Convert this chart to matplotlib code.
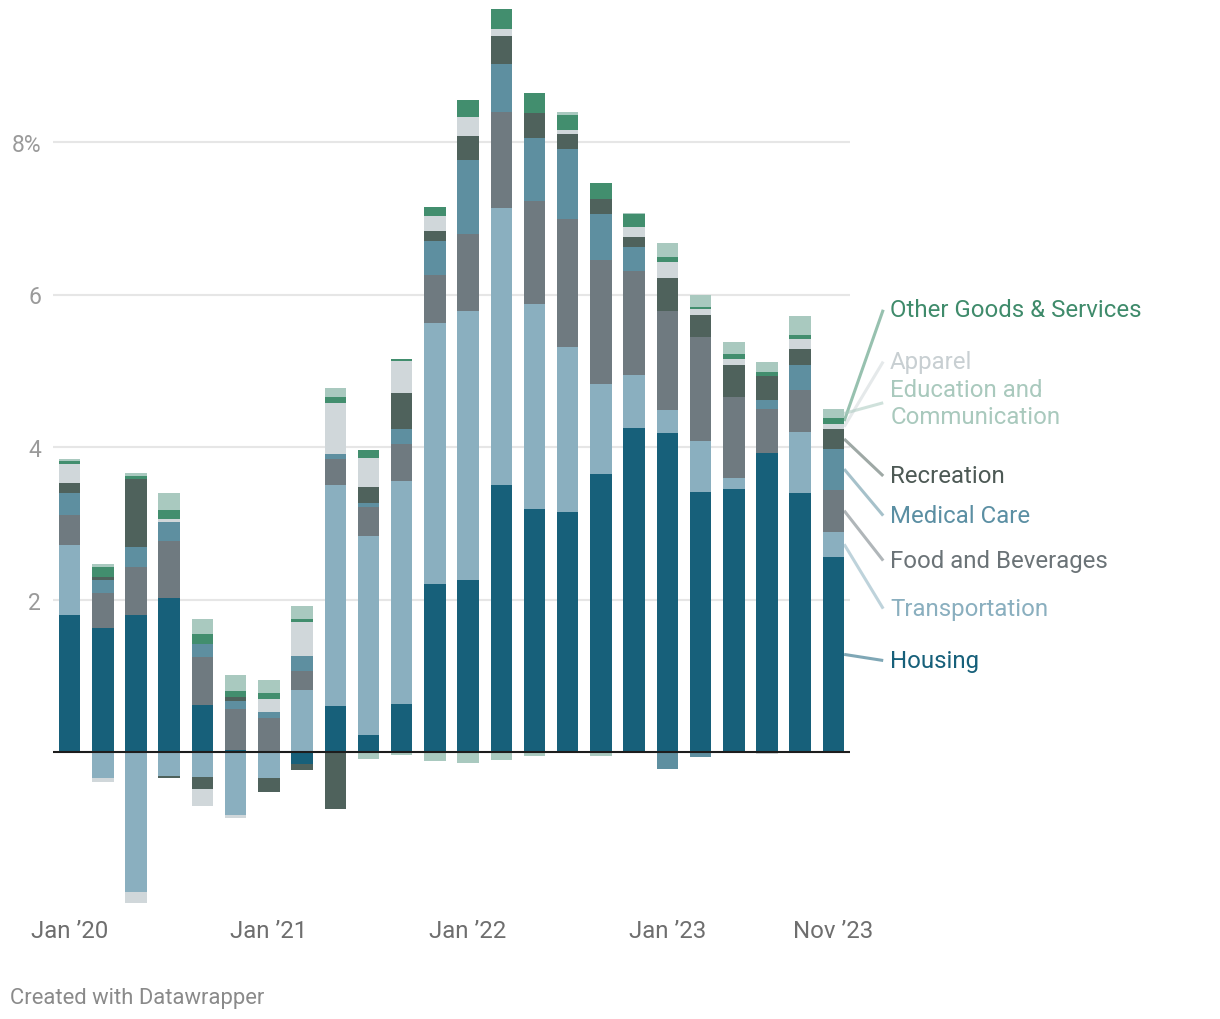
import numpy as np
import matplotlib
matplotlib.use("Agg")
import matplotlib.pyplot as plt

# two-month steps, Jan 2020 .. Nov 2023
periods = ["Jan 2020", "Mar 2020", "May 2020", "Jul 2020", "Sep 2020", "Nov 2020",
           "Jan 2021", "Mar 2021", "May 2021", "Jul 2021", "Sep 2021", "Nov 2021",
           "Jan 2022", "Mar 2022", "May 2022", "Jul 2022", "Sep 2022", "Nov 2022",
           "Jan 2023", "Mar 2023", "May 2023", "Jul 2023", "Sep 2023", "Nov 2023"]
tick_idx = [0, 6, 12, 18, 23]
tick_labels = ["Jan \u201920", "Jan \u201921", "Jan \u201922", "Jan \u201923", "Nov \u201923"]

# contributions (percentage points), stacked in this order
housing = [1.80, 1.63, 1.80, 2.02, 0.62, 0.03, 0.00, -0.16, 0.60, 0.22, 0.63, 2.20,
           2.26, 3.50, 3.19, 3.15, 3.65, 4.25, 4.18, 3.41, 3.45, 3.92, 3.40, 2.56]
transport = [0.92, -0.34, -1.84, -0.31, -0.33, -0.83, -0.34, 0.81, 2.90, 2.61, 2.92, 3.42,
             3.53, 3.63, 2.68, 2.16, 1.17, 0.70, 0.30, 0.67, 0.14, 0.00, 0.80, 0.33]
food = [0.39, 0.46, 0.63, 0.75, 0.63, 0.54, 0.45, 0.25, 0.34, 0.38, 0.49, 0.63,
        1.00, 1.27, 1.35, 1.68, 1.63, 1.36, 1.31, 1.36, 1.06, 0.58, 0.55, 0.55]
medical = [0.29, 0.17, 0.26, 0.24, 0.17, 0.10, 0.08, 0.20, 0.07, 0.05, 0.20, 0.45,
           0.98, 0.62, 0.83, 0.92, 0.60, 0.31, -0.22, -0.06, 0.00, 0.12, 0.33, 0.54]
recreation = [0.13, 0.04, 0.89, -0.03, -0.16, 0.05, -0.18, -0.08, -0.75, 0.22, 0.47, 0.13,
              0.31, 0.37, 0.33, 0.20, 0.20, 0.13, 0.42, 0.29, 0.43, 0.31, 0.21, 0.25]
apparel = [0.25, -0.05, -0.14, 0.05, -0.22, -0.04, 0.16, 0.45, 0.67, 0.38, 0.42, 0.20,
           0.25, 0.09, 0.00, 0.05, 0.00, 0.13, 0.21, 0.08, 0.07, -0.03, 0.13, 0.07]
other = [0.03, 0.12, 0.04, 0.12, 0.13, 0.08, 0.09, 0.04, 0.08, 0.10, 0.03, 0.12,
         0.22, 0.26, 0.26, 0.20, 0.21, 0.17, 0.07, 0.02, 0.07, 0.05, 0.05, 0.08]
education = [0.03, 0.04, 0.04, 0.22, 0.20, 0.21, 0.16, 0.17, 0.12, -0.09, -0.04, -0.12,
             -0.14, -0.10, -0.05, 0.03, -0.05, 0.02, 0.18, 0.17, 0.16, 0.13, 0.25, 0.12]

series = [
    ("Housing", housing, "#17607a", "#17607a"),
    ("Transportation", transport, "#8aafbf", "#8aafbf"),
    ("Food and Beverages", food, "#6f7a80", "#6b7377"),
    ("Medical Care", medical, "#5e8fa0", "#5b8fa3"),
    ("Recreation", recreation, "#4f625c", "#4d5955"),
    ("Apparel", apparel, "#d0d7da", "#c8cfd2"),
    ("Other Goods & Services", other, "#428e6e", "#3f8b6b"),
    ("Education and\nCommunication", education, "#a9c9bf", "#a9c9bd"),
]

# label anchor heights (data units) for the direct labels
label_y = {"Housing": 1.20, "Transportation": 1.88, "Food and Beverages": 2.51,
           "Medical Care": 3.10, "Recreation": 3.62, "Apparel": 5.12,
           "Other Goods & Services": 5.80, "Education and\nCommunication": 4.58}

plt.rcParams["font.family"] = ["Roboto", "DejaVu Sans"]

W, H = 1220, 1020
fig = plt.figure(figsize=(W / 100, H / 100), dpi=100, facecolor="white")

ymin, ymax = -2.05, 9.85
px_per_unit = 76.25
ax_bottom = 753 + (-ymin) * px_per_unit
ax_top = 753 - ymax * px_per_unit
ax = fig.add_axes([53 / W, 1 - ax_bottom / H, (850 - 53) / W, (ax_bottom - ax_top) / H])

x = np.arange(len(periods))
bw = 0.647
pos_base = np.zeros(len(x))
neg_base = np.zeros(len(x))
mids = {}
for name, vals, col, _ in series:
    v = np.array(vals)
    bottom = np.where(v >= 0, pos_base, neg_base)
    ax.bar(x, v, bottom=bottom, width=bw, color=col, linewidth=0, zorder=2)
    mids[name] = bottom[-1] + v[-1] / 2
    pos_base = pos_base + np.where(v > 0, v, 0)
    neg_base = neg_base + np.where(v < 0, v, 0)

ax.set_xlim(-0.5, 23.5)
ax.set_ylim(ymin, ymax)
for s in ax.spines.values():
    s.set_visible(False)
ax.set_yticks([2, 4, 6, 8])
ax.set_yticklabels(["2", "4", "6", "8%"])
ax.yaxis.grid(True, color="#e6e6e6", linewidth=1.5, zorder=0)
ax.set_axisbelow(True)
ax.tick_params(axis="y", length=0, pad=8.5, labelsize=16.5, labelcolor="#9a9a9a")
ax.set_xticks(tick_idx)
ax.set_xticklabels(tick_labels)
ax.tick_params(axis="x", length=0, pad=8, labelsize=17.3, labelcolor="#6e6e6e")
ax.axhline(0, color="#1d1d1d", linewidth=1.5, zorder=3)

# direct labels with leader lines from the last bar
x_start = x[-1] + bw / 2
x_end = 24.5
x_text = 24.71
for name, vals, col, tcol in series:
    ax.plot([x_start, x_end], [mids[name], label_y[name]], color=col, alpha=0.55,
            linewidth=2.2, solid_capstyle="butt", clip_on=False, zorder=1)
    ax.text(x_text, label_y[name], name, color=tcol, fontsize=17.3, va="center",
            ha="left", linespacing=1.2, clip_on=False)

fig.text(10 / W, 1 - 999 / H, "Created with Datawrapper", fontsize=15.8,
         color="#8a8a8a", va="center", ha="left")

fig.savefig("out.png", dpi=100, facecolor="white")
